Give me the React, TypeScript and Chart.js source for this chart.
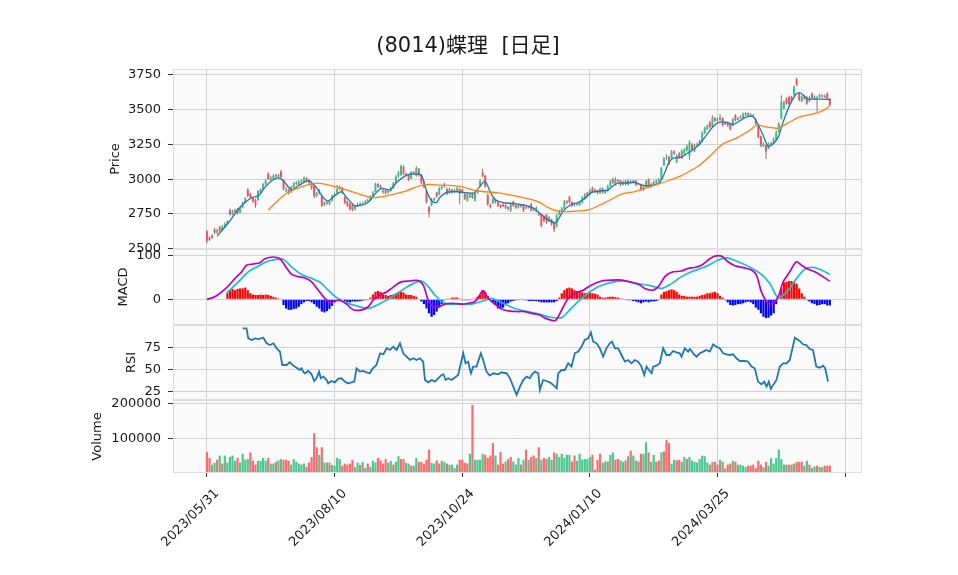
import React, { useEffect, useRef } from 'react';
import { Chart, registerables } from 'chart.js';

Chart.register(...registerables);

const TITLE = '(8014)蝶理  [日足]';

// x positions are trading-day indices (0 = 2023/05/31)
const X_TICK_POS = [0, 50, 100, 150, 200, 250];
const X_TICK_LABELS = ['2023/05/31', '2023/08/10', '2023/10/24', '2024/01/10', '2024/03/25', ''];

const PRICE_TICKS = [2500, 2750, 3000, 3250, 3500, 3750];
const MACD_TICKS = [0, 100];
const RSI_TICKS = [25, 50, 75];
const VOLUME_TICKS = [100000, 200000];

const OPEN = [
  2625,2580,2595,2640,2615,2655,2630,2655,2680,2780,
  2745,2765,2785,2760,2795,2830,2925,2895,2865,2850,
  2850,2900,2930,2965,3040,3000,3005,3030,3015,3055,
  2995,2915,2925,2905,2940,2975,2960,2980,2985,3010,
  2995,2970,2950,2880,2900,2880,2815,2835,2820,2845,
  2880,2900,2930,2940,2870,2840,2825,2815,2785,2810,
  2810,2825,2830,2840,2850,2870,2910,2965,2950,2905,
  2920,2905,2915,2935,2975,3020,3030,3090,3040,3030,
  3005,3050,3025,3075,3030,2975,2915,2800,2815,2850,
  2905,2890,2935,2945,2930,2900,2925,2905,2915,2930,
  2925,2895,2845,2870,2895,2845,2900,2950,3050,3025,
  2890,2815,2825,2855,2835,2815,2820,2815,2800,2775,
  2840,2815,2795,2815,2815,2790,2805,2820,2780,2765,
  2760,2750,2735,2745,2700,2710,2685,2660,2745,2770,
  2790,2840,2875,2835,2810,2815,2815,2830,2860,2905,
  2890,2940,2905,2920,2900,2935,2900,2915,2950,3000,
  2960,2995,2990,2960,2990,2960,2975,2990,2990,2960,
  2965,2925,2950,3000,2945,2965,2975,2985,3000,3100,
  3150,3160,3150,3200,3120,3185,3150,3180,3205,3170,
  3250,3200,3240,3250,3270,3330,3360,3410,3380,3440,
  3420,3425,3440,3395,3410,3395,3385,3460,3425,3440,
  3440,3460,3475,3455,3450,3430,3395,3310,3235,3245,
  3220,3250,3255,3285,3340,3440,3510,3580,3590,3595,
  3605,3720,3620,3560,3595,3590,3560,3615,3575,3580,
  3590,3605,3590,3615,3580,
];
const HIGH = [
  2635,2590,2605,2650,2645,2665,2670,2690,2705,2790,
  2780,2790,2795,2800,2840,2870,2935,2905,2870,2860,
  2925,2935,2975,3000,3050,3025,3035,3040,3040,3067,
  3000,2945,2930,2955,2980,2985,2995,3000,3020,3015,
  3000,2975,2955,2910,2930,2890,2840,2845,2855,2890,
  2905,2960,2955,2945,2875,2845,2830,2820,2815,2830,
  2835,2840,2850,2860,2885,2915,2975,2975,2960,2930,
  2925,2925,2945,2980,3030,3060,3105,3100,3050,3035,
  3060,3060,3095,3080,3035,2985,2920,2810,2865,2870,
  2910,2945,2955,2975,2940,2940,2930,2930,2945,2935,
  2930,2900,2900,2900,2900,2905,2930,3000,3075,3030,
  2895,2825,2865,2860,2840,2820,2825,2820,2805,2830,
  2845,2820,2825,2820,2820,2810,2810,2830,2800,2805,
  2770,2755,2745,2750,2735,2715,2690,2750,2780,2800,
  2850,2850,2880,2840,2830,2830,2840,2880,2900,2910,
  2930,2945,2935,2925,2940,2940,2925,2960,2995,3010,
  3015,3000,2995,2990,2995,3000,2995,2995,2995,2975,
  2970,2960,2995,3005,2975,2990,3000,3010,3090,3160,
  3180,3170,3210,3210,3180,3195,3215,3225,3250,3280,
  3260,3255,3265,3285,3345,3380,3395,3420,3460,3450,
  3445,3470,3445,3415,3415,3400,3440,3470,3450,3460,
  3480,3485,3480,3475,3470,3440,3400,3315,3265,3250,
  3265,3270,3300,3350,3410,3605,3565,3590,3600,3600,
  3675,3730,3630,3605,3610,3600,3600,3625,3605,3600,
  3615,3610,3610,3625,3585,
];
const LOW = [
  2540,2555,2570,2605,2605,2620,2625,2650,2670,2740,
  2740,2755,2745,2755,2790,2825,2870,2860,2830,2795,
  2845,2895,2925,2955,2995,2990,3000,3010,3010,3005,
  2920,2905,2890,2900,2935,2955,2955,2975,2980,2985,
  2965,2925,2865,2870,2890,2800,2805,2815,2815,2840,
  2870,2895,2920,2895,2820,2800,2775,2770,2775,2800,
  2805,2815,2820,2830,2845,2865,2905,2935,2930,2895,
  2890,2895,2910,2930,2970,3010,3025,3030,3020,2985,
  3000,3030,3020,3020,2965,2935,2825,2725,2805,2840,
  2865,2885,2925,2940,2885,2895,2895,2900,2910,2820,
  2895,2850,2840,2865,2860,2840,2895,2945,3015,2940,
  2810,2790,2820,2825,2800,2790,2800,2785,2775,2765,
  2800,2785,2790,2795,2765,2785,2790,2770,2770,2760,
  2735,2655,2690,2680,2690,2665,2620,2655,2740,2765,
  2785,2820,2825,2800,2805,2810,2810,2825,2855,2875,
  2885,2900,2900,2890,2895,2895,2895,2910,2945,2965,
  2955,2975,2950,2955,2955,2955,2970,2970,2950,2955,
  2915,2915,2945,2935,2940,2960,2970,2980,2995,3095,
  3140,3100,3145,3175,3115,3145,3145,3170,3200,3140,
  3205,3195,3235,3245,3265,3325,3355,3365,3375,3410,
  3415,3420,3380,3390,3375,3350,3380,3415,3420,3435,
  3435,3455,3450,3450,3445,3390,3295,3230,3230,3145,
  3215,3245,3250,3280,3335,3430,3500,3535,3530,3550,
  3600,3670,3560,3555,3570,3535,3555,3575,3570,3485,
  3585,3585,3585,3575,3525,
];
const CLOSE = [
  2555,2565,2580,2615,2635,2630,2660,2680,2695,2745,
  2770,2780,2755,2790,2830,2860,2880,2870,2840,2815,
  2915,2925,2965,2990,3000,3010,3025,3020,3030,3015,
  2930,2925,2900,2945,2970,2965,2985,2990,3010,2995,
  2975,2935,2875,2900,2920,2810,2830,2825,2845,2880,
  2895,2930,2945,2905,2830,2810,2785,2780,2805,2815,
  2825,2830,2840,2850,2875,2905,2965,2945,2940,2920,
  2900,2915,2935,2970,3020,3050,3095,3040,3030,2995,
  3050,3040,3080,3030,2975,2945,2835,2760,2855,2860,
  2875,2935,2945,2960,2895,2930,2905,2920,2935,2895,
  2905,2860,2893,2890,2865,2900,2920,2990,3020,2945,
  2820,2800,2855,2835,2810,2800,2805,2795,2785,2820,
  2810,2795,2815,2805,2775,2800,2795,2775,2790,2795,
  2745,2665,2700,2690,2725,2675,2640,2740,2770,2790,
  2840,2830,2835,2810,2815,2820,2830,2870,2890,2885,
  2920,2910,2925,2900,2930,2905,2915,2950,2985,2975,
  2995,2985,2960,2980,2965,2990,2985,2980,2960,2965,
  2925,2950,2985,2945,2965,2980,2990,3000,3080,3150,
  3160,3110,3200,3185,3170,3155,3205,3215,3240,3265,
  3215,3245,3250,3275,3335,3370,3385,3375,3445,3420,
  3430,3445,3390,3405,3385,3360,3430,3425,3440,3450,
  3470,3475,3460,3465,3460,3400,3305,3240,3255,3200,
  3255,3260,3290,3340,3400,3555,3555,3545,3540,3560,
  3665,3680,3570,3595,3580,3545,3585,3585,3595,3590,
  3605,3595,3600,3580,3535,
];
const VOLUME = [
  60000,43000,24000,29000,38000,50000,27000,50000,30000,46000,
  50000,35000,43000,30000,55000,38000,40000,59000,35000,24000,
  35000,35000,43000,35000,43000,27000,27000,32000,36000,40000,
  38000,38000,35000,24000,40000,32000,27000,24000,27000,17000,
  30000,46000,114000,74000,52000,74000,30000,30000,30000,23000,
  21000,43000,40000,21000,27000,24000,27000,38000,17000,30000,
  23000,32000,14000,27000,17000,35000,30000,43000,36000,27000,
  40000,30000,35000,24000,32000,48000,40000,40000,29000,27000,
  21000,21000,43000,32000,32000,27000,38000,67000,29000,27000,
  36000,27000,35000,32000,27000,24000,24000,14000,24000,38000,
  38000,29000,27000,55000,195000,38000,38000,38000,55000,52000,
  43000,50000,86000,50000,24000,60000,27000,33000,40000,46000,
  33000,24000,43000,24000,38000,67000,38000,46000,50000,43000,
  74000,38000,43000,40000,46000,38000,59000,55000,46000,55000,
  43000,52000,52000,33000,50000,35000,55000,38000,40000,40000,
  46000,52000,10000,38000,55000,30000,33000,33000,52000,59000,
  38000,40000,36000,32000,36000,48000,64000,50000,36000,33000,
  55000,55000,88000,59000,32000,52000,32000,36000,59000,62000,
  95000,86000,27000,38000,36000,38000,32000,46000,40000,46000,
  36000,32000,30000,40000,50000,48000,30000,24000,32000,32000,
  24000,38000,32000,13000,24000,27000,35000,32000,24000,24000,
  21000,17000,21000,21000,24000,14000,35000,24000,17000,32000,
  21000,43000,27000,43000,67000,40000,24000,24000,24000,24000,
  27000,32000,32000,32000,21000,35000,24000,14000,19000,21000,
  17000,17000,21000,21000,21000,
];
// g = volume bar drawn in the "up" colour, r = "down" colour
const VOLUME_DIR =
  'rrggrgrggg' + 'ggrggggrrr' + 'ggggrggrgg' + 'rrrggggggr' + 'rrrrgrggrg' +
  'gggrrrrrgg' + 'rggrgggrrr' + 'rggrggrrgg' + 'rggrrrrrgg' + 'rrggrggrgr' +
  'rrrgrggggr' + 'rrrgrrrgrr' + 'gggrgrg' +
  'rrgrgrrggr' + 'ggggggrrgg' + 'ggggrgrrgg' + 'rggrrggrgr' + 'ggrrggrggr' +
  'rgrrrggrrg' + 'grgggggggg' + 'rgrrgrgrrg' + 'rggggrrrrr' + 'rgrggggggg' +
  'rgrgrrrggr' + 'ggrggrrr';

const MACD_HIST = [
  null,null,null,null,null,null,null,null,14,21,
  24,21,24,25,25,27,21,14,11,10,
  10,11,10,11,10,8,6,4,2,0.6,
  -13,-21,-24,-24,-22,-21,-17,-11,-7,-4,
  -4,-7,-11,-17,-21,-28,-30,-27,-22,-15,
  -7,1,2,1,-4,-7,-7,-5,-5,-5,
  -4,-3,-2,-2,4,11,17,19,17,11,
  10,8,10,11,14,17,17,16,11,10,
  10,8,6,1,-5,-11,-21,-32,-40,-36,
  -28,-19,-11,-2,0.6,2,4,4,4,2,
  -2,-2,-2,-2,0.6,2,6,11,21,17,
  8,1,-7,-13,-21,-22,-19,-13,-9,-5,
  -4,-2,-2,0.6,-2,-2,-4,-4,-4,-4,
  -5,-7,-7,-7,-7,-7,-7,-4,4,14,
  21,25,27,25,21,19,17,16,14,14,
  15,14,13,11,6,4,4,5,6,6,
  5,4,2,0.6,-0.6,-2,-2,-4,-5,-7,
  -9,-7,-5,-7,-5,-5,-4,-2,11,17,
  19,21,23,21,17,11,8,8,6,6,
  6,6,6,8,10,11,14,14,16,17,
  14,8,4,-2,-7,-13,-14,-13,-11,-11,
  -9,-7,-5,-7,-11,-19,-24,-32,-40,-43,
  -42,-37,-32,-11,2,25,39,40,42,42,
  40,36,25,14,6,-2,-5,-9,-11,-14,
  -13,-11,-11,-14,-14,
];

const MA5_X = [4,8.4,12.3,14.9,17.5,20.1,22.7,25.3,27.9,29.9,33.2,35.8,39.7,42.3,45.6,47.5,50.1,52.7,54.7,58,59.9,61.9,63.8,65.8,68.4,71.7,74.3,78.2,82.1,84.1,86,88,89.9,91.2,93.9,97.8,104.3,106.3,108.9,110.8,112.8,116,120,124.5,128.5,132.4,136.3,137.6,139.6,142.2,145.4,148,150.7,154.6,157.2,159.1,161.1,163.7,167.6,170.2,172.2,174.8,177.4,179.4,180.7,182.6,185.9,188.5,191.8,194.4,197,199.6,201.6,204.2,206.1,208.1,211.4,214,216,217.9,219.9,221.8,223.8,225.7,228.3,231,232.9,234.9,237.5,240.1,243.3,244];
const MA5_Y = [2591,2687,2784,2832,2868,2881,2941,2989,3009,2989,2924,2953,2989,2953,2868,2844,2881,2910,2868,2808,2813,2820,2844,2893,2934,2924,2977,3030,3038,3026,2917,2844,2832,2868,2905,2910,2900,2934,2984,2917,2856,2832,2825,2813,2784,2724,2687,2711,2772,2813,2832,2861,2905,2917,2924,2953,2972,2972,2977,2960,2953,2958,2977,3050,3110,3151,3158,3190,3231,3286,3352,3400,3412,3405,3393,3412,3448,3448,3388,3315,3236,3255,3303,3412,3533,3617,3617,3581,3576,3576,3574,3570];

const MA25_X = [24,29.9,34.5,43,52.7,61.9,65.1,70.4,78.2,84.7,91.3,99.1,105.6,114.8,126.5,129.8,133.7,137.6,141.5,149.3,154.6,158.5,162.4,167.6,171.5,176.8,180.7,185.9,191.1,193.1,197,202.2,207.4,212.7,215.3,219.2,223.7,228.3,232.2,236.2,240.1,242.6,244];
const MA25_Y = [2777,2881,2929,2972,2934,2881,2868,2881,2917,2960,2958,2948,2917,2900,2856,2837,2796,2770,2767,2779,2820,2856,2893,2910,2934,2965,2989,3026,3079,3103,3166,3255,3296,3352,3388,3376,3368,3412,3448,3465,3484,3508,3528];

const MACD_X = [0,3.1,7.7,11,13.6,15.5,18.1,20.8,22.7,26,28.6,30.5,33.2,35.8,38.4,41,43.6,46.2,48.2,50.1,52.1,54.7,57.3,60.6,63.2,65.1,67.8,70.4,72.3,74.3,76.2,79.5,82.8,84.7,86.7,88.6,90.6,93.2,95.8,99.7,102.3,105,106.9,108.2,110.2,112.8,115.4,118.7,121.9,124.5,127.2,130.4,132.4,136.3,137.6,139.6,141.5,144.1,147.4,150.7,154.6,158.5,162.4,166.3,169.6,171.5,174.8,176.8,179.4,182,185.9,188.5,191.1,193.7,197,198.9,201.6,204.1,206.8,210.7,213.3,215.3,217.2,219.8,221.8,223.8,225.7,228.3,230.9,232.9,235.5,238.1,240.7,243.3,244];
const MACD_Y = [0,6,27,48,63,78,81,84,93,97,93,78,57,52,49,40,21,2,-7,-4,-2,-11,-24,-24,-17,-2,10,17,25,34,40,42,43,33,-2,-17,-18,-11,-9,-11,-9,-5,10,20,2,-11,-22,-27,-28,-28,-32,-36,-43,-49,-40,-17,2,14,21,33,42,44,44,39,33,25,21,29,52,62,65,71,73,78,93,99,99,86,77,72,67,55,17,-9,-9,6,40,63,86,78,69,63,54,44,42];

const SIGNAL_X = [7.7,12.3,16.2,20.1,23.4,26.6,29.9,33.2,37.1,41,44.3,47.5,50.8,54,58,63.2,66.4,69.7,73.6,77.5,80.8,84.1,86.7,89.3,91.9,94.5,98.4,103.7,107.6,111.5,114.1,117.4,120.6,124.5,129.8,133.7,138.9,141.5,145.4,149.3,153.3,158.5,163.7,168.9,174.1,178.1,182,185.9,189.8,195,200.3,203.5,208.1,213.3,217.2,220.5,223.8,227.7,231,234.2,237.5,240.7,244];
const SIGNAL_Y = [14,40,63,76,86,91,92,74,57,48,39,21,4,-7,-14,-21,-14,-4,10,25,36,42,29,10,-5,-11,-11,-11,-5,2,-4,-13,-21,-27,-33,-40,-42,-28,-5,14,29,39,42,36,31,25,36,52,63,74,90,95,86,72,57,36,4,21,48,69,73,67,57];

const RSI_X = [14,15.5,16.2,17.5,18.8,20.1,22.1,23.4,24.7,26,27.3,28.6,29.5,31.2,32.5,33.8,35.1,36.4,37.1,37.7,38.4,39.7,41,42,42.9,43.9,44.6,45.6,46.9,47.5,48.8,50.1,51.4,52.7,54,55.1,56.7,57.7,58.6,59.9,61.2,62.5,63.8,64.8,66.4,67.8,69.1,70.4,71.7,73,74.3,75.6,76.9,78.2,79.5,80.8,82.1,83.4,84.7,85.4,86.7,88,89.3,90.6,91.9,92.6,93.5,94.5,95.8,97.1,98.4,99.3,100.4,101.3,102.3,103.4,104.3,105.6,107.3,108.2,109.5,110.8,112.1,114.1,115.4,117.4,118.7,120,121.3,122.6,123.9,125.2,126.5,127.2,128.5,129.8,130.4,131.7,133,134.3,135.6,137,137.6,138.9,140.2,141.5,142.8,144.1,145.4,146.7,148,149.3,150.4,151.3,152.6,153.9,155.2,156.5,157.8,158.7,159.8,161.1,162.4,163.7,165,166.3,167.6,168.9,170.2,171.3,172.2,173.1,174.2,174.8,176.1,177.4,178.7,180,181.3,182.6,183.9,185.2,185.9,187.2,188.5,189.2,190.5,191.8,193.1,194.4,195.7,197,198.3,199.6,200.9,202.2,203.5,204.8,206.1,207.4,208.7,210.7,212,213.3,214.6,215.9,217.2,218.3,219.2,220.1,220.9,221.8,223.1,224.4,225.7,227,228.3,230.3,232.2,233.5,234.8,236.1,237.4,238.7,240,241.3,242.2,243.3];
const RSI_Y = [96.3,96.3,85,83.2,85,84.3,85.8,79.5,77.6,79.5,73.9,70.2,55.2,55.2,58.2,54.5,52.2,49.6,51.5,47.8,45.9,48.5,44.8,37.3,40.3,47.8,40.3,42.2,38.4,34.7,37.3,35.8,39.6,40.3,36.6,34.7,35.8,36.6,51.5,47.8,48.5,47,45.9,50.8,55.2,68.3,67.2,73.9,72,75.7,72,79.5,68.3,64.6,60.8,62.7,60.8,62.7,59,38.4,35.8,38.4,36.6,40.3,44.1,44.8,38.4,40.3,38.4,41.1,44.1,55.2,68.3,57.1,59,45.9,53.4,53.4,68.3,60.8,47.8,43.3,45.9,44.8,47,45.9,40.3,31,21.7,31,38.4,42.2,40.3,44.1,47.8,45.9,27.3,38.4,37.3,35.8,32.9,29.1,45.9,49.6,49.6,57.1,53.4,68.3,70.2,75.7,83.2,85.1,91.8,81.3,79.5,73.9,64.6,73.9,79.5,81.3,73.9,73.9,66.4,59,60.8,57.1,60.8,59,53.4,44.1,53.4,49.6,45.9,53.4,54.5,57.1,73.9,66.4,66.4,70.9,69.4,68.3,64.6,73.9,70.2,73.1,68.3,64.6,68.3,70.2,72,70.2,78.4,75.7,73.9,68.3,67.2,66.4,67.2,62.7,59.7,59.7,59,53.4,51.5,36.6,33.6,36.6,31,36.6,28.4,32.9,38.4,53.4,57.1,57.1,60.8,85.8,82.1,78.4,77.6,73.1,72,53.4,52.2,54.5,51.5,36.6];

const UP_COLOR = '#3fbf86';
const DOWN_COLOR = '#f7525a';
const VOL_UP = '#4dc790';
const VOL_DOWN = '#fd6b6c';
const TEXT = '#1a1a1a';
const GRID = '#d2d2d2';
const FONT = 'DejaVu Sans';

const PANEL_IDS = ['yP', 'yM', 'yR', 'yV'];

const framePlugin = {
  id: 'framePlugin',
  beforeDraw(chart: any) {
    const { ctx, chartArea: a } = chart;
    ctx.save();
    ctx.fillStyle = '#ffffff';
    ctx.fillRect(0, 0, chart.width, chart.height);
    ctx.fillStyle = '#fafafa';
    ctx.fillRect(a.left, a.top, a.right - a.left, a.bottom - a.top);
    ctx.restore();
  },
  afterDraw(chart: any) {
    const { ctx, chartArea: a } = chart;
    ctx.save();
    ctx.strokeStyle = '#dedede';
    ctx.lineWidth = 1;
    for (const id of PANEL_IDS) {
      const s = chart.scales[id];
      ctx.strokeRect(a.left + 0.5, Math.round(s.top) + 0.5, a.right - a.left - 1, Math.round(s.bottom - s.top) - 1);
    }
    ctx.fillStyle = TEXT;
    ctx.font = `21px "${FONT}", "Noto Sans CJK JP"`;
    ctx.textAlign = 'center';
    ctx.textBaseline = 'alphabetic';
    ctx.fillText(TITLE, 468, 52);
    ctx.restore();
  },
};

function yAxis(opts: {
  weight: number; stackWeight: number; min: number; max: number; ticks: number[]; title: string; titlePad: number;
}) {
  return {
    type: 'linear' as const,
    position: 'left' as const,
    stack: 'panels',
    stackWeight: opts.stackWeight,
    weight: opts.weight,
    min: opts.min,
    max: opts.max,
    afterBuildTicks: (s: any) => { s.ticks = opts.ticks.map((v) => ({ value: v })); },
    afterFit: (s: any) => { s.width = 173; },
    border: { display: false },
    grid: { color: GRID, lineWidth: 1, tickLength: 5, tickColor: '#333333', drawTicks: true },
    ticks: {
      autoSkip: false,
      color: TEXT,
      padding: 7,
      font: { family: FONT, size: 13 },
      callback: (v: any) => String(v),
    },
    title: {
      display: true,
      text: opts.title,
      color: TEXT,
      font: { family: FONT, size: 13 },
      padding: { top: opts.titlePad, bottom: 0 },
    },
  };
}

export default function App() {
  const ref = useRef<HTMLCanvasElement>(null);

  useEffect(() => {
    const canvas = ref.current;
    if (!canvas) return;
    const n = CLOSE.length;
    const idx = Array.from({ length: n }, (_, i) => i);
    const pts = (xs: number[], ys: number[]) => xs.map((x, k) => ({ x, y: ys[k] }));

    const chart = new Chart(canvas, {
      type: 'bar',
      data: {
        datasets: [
          {
            type: 'bar',
            label: 'wick',
            data: idx.map((i) => ({ x: i, y: [LOW[i], HIGH[i]] })) as any,
            yAxisID: 'yP',
            backgroundColor: '#6e6e6e',
            barThickness: 0.9,
            grouped: false,
            inflateAmount: 0,
            borderWidth: 0,
            order: 5,
          },
          {
            type: 'bar',
            label: 'body',
            data: idx.map((i) => ({ x: i, y: [OPEN[i], CLOSE[i]] })) as any,
            yAxisID: 'yP',
            backgroundColor: (c: any) => (CLOSE[c.dataIndex] >= OPEN[c.dataIndex] ? UP_COLOR : DOWN_COLOR),
            barThickness: 2,
            grouped: false,
            inflateAmount: 0,
            borderWidth: 0,
            order: 4,
          },
          {
            type: 'line',
            label: 'MA5',
            data: pts(MA5_X, MA5_Y) as any,
            yAxisID: 'yP',
            borderColor: '#1f77b4',
            borderWidth: 1.3,
            pointRadius: 0,
            tension: 0.3,
            order: 2,
          },
          {
            type: 'line',
            label: 'MA25',
            data: pts(MA25_X, MA25_Y) as any,
            yAxisID: 'yP',
            borderColor: '#ff7f0e',
            borderWidth: 1.3,
            pointRadius: 0,
            tension: 0.3,
            order: 1,
          },
          {
            type: 'bar',
            label: 'hist',
            data: idx.filter((i) => MACD_HIST[i] !== null).map((i) => ({ x: i, y: MACD_HIST[i] })) as any,
            yAxisID: 'yM',
            backgroundColor: (c: any) => ((c.raw && c.raw.y >= 0) ? '#ff0000' : '#0000ff'),
            barThickness: 2.2,
            grouped: false,
            inflateAmount: 0,
            borderWidth: 0,
            order: 6,
          },
          {
            type: 'line',
            label: 'MACD',
            data: pts(MACD_X, MACD_Y) as any,
            yAxisID: 'yM',
            borderColor: '#bf00bf',
            borderWidth: 1.7,
            pointRadius: 0,
            tension: 0.3,
            order: 1,
          },
          {
            type: 'line',
            label: 'Signal',
            data: pts(SIGNAL_X, SIGNAL_Y) as any,
            yAxisID: 'yM',
            borderColor: '#17becf',
            borderWidth: 1.7,
            pointRadius: 0,
            tension: 0.3,
            order: 1,
          },
          {
            type: 'line',
            label: 'RSI',
            data: pts(RSI_X, RSI_Y) as any,
            yAxisID: 'yR',
            borderColor: '#1f77b4',
            borderWidth: 1.8,
            pointRadius: 0,
            tension: 0,
            order: 1,
          },
          {
            type: 'bar',
            label: 'Volume',
            data: idx.map((i) => ({ x: i, y: VOLUME[i] })) as any,
            yAxisID: 'yV',
            backgroundColor: (c: any) => (VOLUME_DIR[c.dataIndex] === 'g' ? VOL_UP : VOL_DOWN),
            barThickness: 2.2,
            grouped: false,
            inflateAmount: 0,
            borderWidth: 0,
            order: 6,
          },
        ],
      },
      options: {
        responsive: false,
        animation: false,
        devicePixelRatio: 1,
        layout: { padding: { left: 0, right: 96, top: 69, bottom: 0 } },
        plugins: {
          legend: { display: false },
          tooltip: { enabled: false },
          title: { display: false },
        },
        scales: {
          x: {
            type: 'linear',
            position: 'bottom',
            min: -13.3,
            max: 256.6,
            offset: false,
            afterBuildTicks: (s: any) => { s.ticks = X_TICK_POS.map((v) => ({ value: v })); },
            afterFit: (s: any) => { s.height = 102; },
            border: { display: false },
            grid: { color: GRID, lineWidth: 1, tickLength: 4, tickColor: '#333333', offset: false },
            ticks: {
              autoSkip: false,
              minRotation: 45,
              maxRotation: 45,
              color: TEXT,
              padding: 9,
              labelOffset: 10,
              font: { family: FONT, size: 13 },
              callback: (v: any) => {
                const k = X_TICK_POS.indexOf(Number(v));
                return k >= 0 ? X_TICK_LABELS[k] : '';
              },
            },
          },
          yP: yAxis({ weight: 4, stackWeight: 180, min: 2498, max: 3793, ticks: PRICE_TICKS, title: 'Price', titlePad: 108 }),
          yM: yAxis({ weight: 3, stackWeight: 76, min: -58.8, max: 115.3, ticks: MACD_TICKS, title: 'MACD', titlePad: 116 }),
          yR: yAxis({ weight: 2, stackWeight: 75, min: 16, max: 100, ticks: RSI_TICKS, title: 'RSI', titlePad: 124 }),
          yV: yAxis({ weight: 1, stackWeight: 73, min: 0, max: 209400, ticks: VOLUME_TICKS, title: 'Volume', titlePad: 90 }),
        } as any,
      },
      plugins: [framePlugin],
    });

    return () => chart.destroy();
  }, []);

  return (
    <div style={{ position: 'absolute', left: 0, top: 0, width: 958, height: 575, background: '#ffffff' }}>
      <canvas ref={ref} width={958} height={575} style={{ display: 'block', width: 958, height: 575 }} />
    </div>
  );
}
